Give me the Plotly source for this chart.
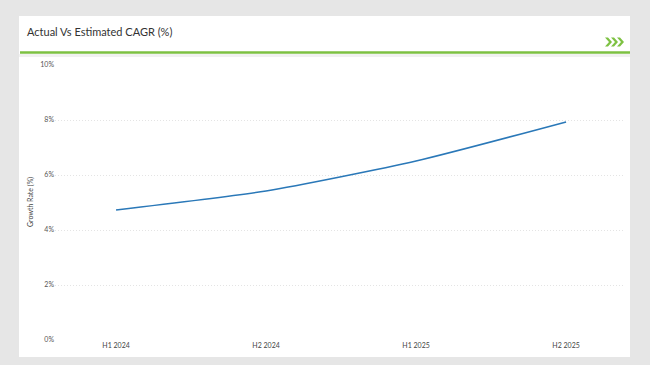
import plotly.graph_objects as go

categories = ["H1 2024", "H2 2024", "H1 2025", "H2 2025"]
growth = [4.73, 5.42, 6.51, 7.93]
y_ticks = [0, 2, 4, 6, 8, 10]
y_tick_labels = ["0%", "2%", "4%", "6%", "8%", "10%"]

W, H = 650, 365
L, R, T, B = 55, 25, 65, 25
PW, PH = W - L - R, H - T - B

def px(x):
    return (x - L) / PW

def py(y):
    return (H - B - y) / PH

fig = go.Figure()
fig.add_trace(go.Scatter(
    x=categories, y=growth, mode="lines",
    line=dict(color="#2a78b8", width=1.6, shape="spline", smoothing=0.6),
    hoverinfo="skip", showlegend=False,
))

shapes = [
    # white card
    dict(type="rect", xref="paper", yref="paper", x0=px(19), x1=px(630), y0=py(16), y1=py(357),
         fillcolor="white", line=dict(width=0), layer="below"),
    # faint band under the rule
    dict(type="rect", xref="paper", yref="paper", x0=px(19), x1=px(630), y0=py(54), y1=py(57),
         fillcolor="#f1f1f1", line=dict(width=0), layer="below"),
    # green rule
    dict(type="line", xref="paper", yref="paper", x0=px(20), x1=px(630), y0=py(52.5), y1=py(52.5),
         line=dict(color="#7dc142", width=2.5)),
]
# chevrons
for i in range(3):
    x0 = 605 + i * 6
    path = "M {a},{b} L {c},{d} L {e},{f} L {g},{h} L {i2},{j} L {k},{l} Z".format(
        a=px(x0), b=py(37.5), c=px(x0 + 3), d=py(37.5), e=px(x0 + 7), f=py(42),
        g=px(x0 + 3), h=py(46.5), i2=px(x0), j=py(46.5), k=px(x0 + 4), l=py(42))
    shapes.append(dict(type="path", xref="paper", yref="paper", path=path,
                       fillcolor="#7dc142", line=dict(width=0)))

fig.update_layout(
    width=W, height=H,
    margin=dict(l=L, r=R, t=T, b=B),
    paper_bgcolor="#e6e6e6", plot_bgcolor="white",
    shapes=shapes,
    annotations=[
        dict(text="Actual Vs Estimated CAGR (%)", xref="paper", yref="paper",
             x=px(25), y=py(32), xanchor="left", yanchor="middle", showarrow=False,
             font=dict(family="Lato", size=11, color="#333333")),
        dict(text="Growth Rate (%)", xref="paper", yref="paper",
             x=px(30), y=py(202), xanchor="center", yanchor="middle", showarrow=False,
             textangle=-90, font=dict(family="Lato", size=7, color="#444444")),
    ],
    xaxis=dict(type="category", range=[-0.407, 3.393], showgrid=False, zeroline=False,
               showline=False, ticks="", tickfont=dict(family="Lato", size=7, color="#444444")),
    yaxis=dict(range=[0, 10], tickvals=y_ticks, ticktext=y_tick_labels,
               showgrid=True, gridcolor="#e4e4e4", griddash="1px,2px", gridwidth=1,
               zeroline=False, showline=False, ticks="",
               tickfont=dict(family="Lato", size=7, color="#555555")),
)

fig.write_html(
    "out.html",
    config={"displayModeBar": False},
    post_script="document.body.style.margin='0';document.body.style.background='#e6e6e6';",
)
